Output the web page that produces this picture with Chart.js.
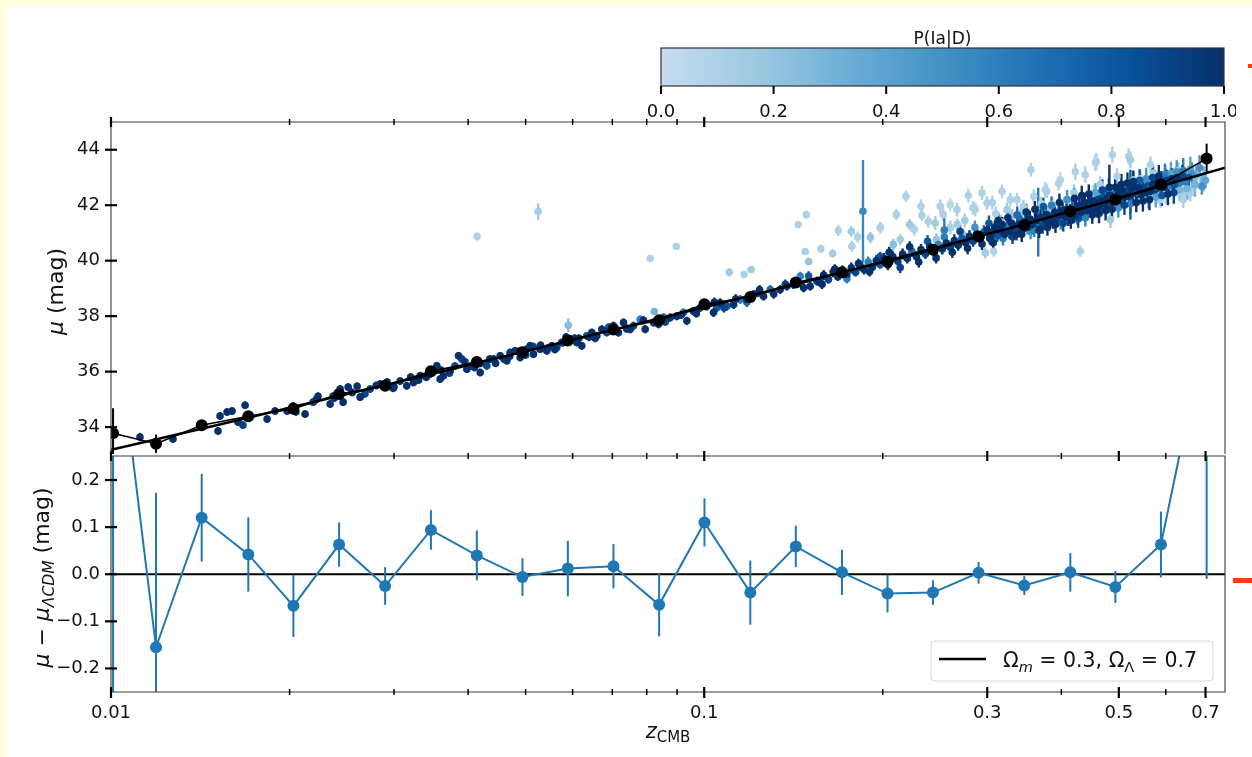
<!DOCTYPE html>
<html>
<head>
<meta charset="utf-8">
<script src="https://cdn.jsdelivr.net/npm/chart.js@4"></script>
<style>
  html, body { margin: 0; padding: 0; }
  body { width: 1252px; height: 757px; background: #ffffdc; position: relative; overflow: hidden; }
  #sheet { position: absolute; left: 7px; top: 6px; right: 0; bottom: 0; background: #fff; }
  canvas { position: absolute; }
  .mark { position: absolute; background: #ff3a12; }
</style>
</head>
<body>
<div id="sheet"></div>
<canvas id="cbar" style="left:600px;top:20px" width="636" height="110"></canvas>
<canvas id="muChart" style="left:0;top:100px" width="1252" height="360"></canvas>
<canvas id="resChart" style="left:0;top:450px" width="1252" height="307"></canvas>
<div class="mark" style="left:1248px;top:64px;width:4px;height:4px"></div>
<div class="mark" style="left:1233px;top:578px;width:19px;height:5px"></div>
<script>
// supernova distance moduli, errors and P(Ia|D)
var snZ = [
  0.01119,0.01272,0.01429,0.01515,0.01527,0.01569,0.01600,0.01637,0.01669,0.01683,
  0.01833,0.01890,0.01981,0.02028,0.02124,0.02191,0.02234,0.02341,0.02368,0.02434,
  0.02462,0.02511,0.02600,0.02630,0.02734,0.02842,0.02920,0.02990,0.03072,

  0.03152,0.03235,0.03320,0.03451,0.03542,0.03588,0.03635,0.03731,0.03853,0.03904,
  0.03980,0.04058,0.04137,0.04192,0.04301,0.04414,0.04529,0.04648,0.04708,0.04801,
  0.04895,0.05023,0.05088,0.05154,0.05289,0.05428,0.05534,0.05642,0.05791,0.05943,
  0.06099,0.06218,0.06340,0.06465,0.06592,0.06721,0.06852,0.07032,0.07170,0.07311,
  0.07503,0.07601,0.07800,0.07953,0.08215,0.08376,0.08540,0.08764,0.08994,0.09230,
  0.09350,0.09594,0.09845,0.1010,0.1037,0.1064,0.1092,0.1121,0.1150,0.1180,
  0.1211,0.1234,0.1259,0.1292,0.1343,0.1378,0.1414,0.1452,0.1471,0.1509,
  0.1549,

  0.0330,0.0345,0.0372,0.0395,0.0420,0.0445,0.0470,0.0500,0.0530,0.0560,
  0.0585,0.0615,0.0655,0.0690,0.0740,0.0790,0.0860,0.0915,0.0970,0.1050,

  0.156,0.159,0.162,0.165,0.168,0.171,0.174,0.177,0.180,0.183,
  0.186,0.189,0.192,0.195,0.198,0.201,0.204,0.208,0.212,0.216,
  0.220,0.224,0.228,0.232,0.236,0.240,0.244,0.248,0.252,0.256,
  0.260,0.264,0.268,0.272,0.276,0.280,0.284,0.288,0.292,0.296,

  0.300,0.303,0.306,0.309,0.312,0.315,0.318,0.321,0.324,0.327,
  0.330,0.333,0.336,0.339,0.342,0.345,0.348,0.351,0.354,0.357,
  0.360,0.363,0.369,0.372,0.375,0.378,0.381,0.384,0.387,0.390,
  0.393,0.396,0.399,0.402,0.405,0.408,0.411,0.414,0.417,0.420,
  0.423,0.426,0.429,0.432,0.435,0.438,0.441,0.444,0.447,0.450,
  0.453,0.456,0.459,0.462,0.465,0.468,0.471,0.474,0.477,0.480,
  0.484,0.488,0.492,0.496,0.500,0.504,0.508,0.512,0.516,0.520,
  0.524,0.528,0.532,0.536,0.540,0.545,0.550,0.555,0.560,0.565,
  0.570,0.575,0.580,0.585,0.590,0.596,0.602,0.608,0.614,0.620,
  0.626,0.632,0.640,0.648,0.656,0.664,

  0.0414,0.0525,0.0590,0.0811,0.0824,0.0897,0.1102,0.1168,0.1200,0.1440,
  0.1486,0.1480,0.1500,

  0.1573,0.1646,0.1774,0.1814,0.1981,0.2108,0.2188,0.2220,0.2320,0.2329,
  0.2452,0.2500,0.2668,0.2839,0.2940,0.2978,0.2997,0.3076,0.3177,0.3239,
  0.3368,0.3555,0.3593,0.3833,0.3958,0.4089,0.4306,0.4390,0.4537,0.4583,
  0.4840,0.4965,0.5195,0.5297,0.5725,0.5873,0.6420,0.6600,

  0.1852,0.254,0.3657,0.482,0.523,

  0.260,0.275,0.310,0.330,0.345,0.370,0.378,0.420,0.465,0.545,0.600,0.630,

  0.670,0.690,0.685,0.655,0.635,0.600,0.620,0.580,0.560,0.645,0.675,0.700,

  0.205,0.214,0.222,0.230,0.238,0.246,0.254,0.262,0.270,0.278,
  0.286,0.294,0.302,0.307,0.313,0.319,0.325,0.331,0.337,0.343,
  0.349,0.355,0.361,0.367,0.373,0.379,0.385,0.391,0.397,0.403,
  0.409,0.415,0.421,0.427,0.433,0.439,0.445,0.451,0.457,0.463,
  0.469,0.475,0.481,0.487,0.493,0.499,0.505,0.511,0.517,0.523,
  0.529,0.535,0.542,0.549,0.556,0.563,0.570,0.577,0.584,0.591,
  0.598,0.605,0.612,0.619,0.626,0.633,0.642,0.651,0.660,0.672,
  0.684,0.695,

  0.0205,0.0222,0.0238,0.0255,0.0268,0.0280,0.0300,0.0320,0.0340,0.0360,
  0.0380,0.0410,0.0435,0.0460,0.0490,0.0515,0.0545,0.0575,0.0605,0.0640,

  0.104,0.108,0.113,0.118,0.124,0.131,0.137,0.150,0.158,0.166,
  0.174,0.182,0.190,0.198,

  0.1683,0.1770,0.1906,0.1981,0.2083,0.2140,0.2260,0.2386,0.2462,0.2529,
  0.2599,0.2671,0.2734,0.2788,0.2864,0.3060,0.3157,0.3281,0.3438,0.3758,
  0.3862,0.3984,0.4223,0.4564,0.4875,0.5230,0.5651
];
var snMu = [
  33.64,33.57,34.11,33.86,34.40,34.54,34.58,34.18,34.07,34.79,
  34.29,34.58,34.58,34.76,34.47,34.90,35.11,34.83,35.11,35.37,
  34.90,35.44,35.47,35.08,35.37,35.55,35.62,35.40,35.66,

  35.49,35.61,35.85,35.91,36.21,35.73,35.85,36.03,36.57,36.45,
  36.09,36.21,36.33,35.97,36.21,36.45,36.57,36.39,36.69,36.75,
  36.51,36.81,36.93,36.63,36.81,36.75,36.93,36.87,37.05,37.17,
  37.05,36.93,37.29,37.41,37.29,37.53,37.41,37.65,37.41,37.77,
  37.53,37.65,37.88,37.53,37.77,37.71,37.95,37.95,38.00,38.13,
  37.83,38.18,38.30,38.36,38.13,38.48,38.36,38.42,38.60,38.60,
  38.78,38.84,38.72,38.96,38.96,39.08,39.14,39.44,39.02,39.08,
  39.26,

  35.70,36.05,35.95,36.35,36.30,36.30,36.55,36.60,36.95,36.80,
  37.25,37.20,37.20,37.60,37.55,37.85,37.80,38.05,38.10,38.30,

  39.25,39.48,39.32,39.60,39.42,39.66,39.50,39.74,39.58,39.83,
  39.68,39.95,39.76,40.00,39.86,40.08,39.84,40.14,39.98,40.24,
  40.08,40.33,40.14,40.40,40.24,40.50,40.32,40.58,40.42,40.64,
  40.48,40.73,40.56,40.80,40.64,40.88,40.70,40.96,40.78,41.03,

  41.10,40.80,41.00,41.20,40.90,41.10,41.30,40.95,41.20,41.05,
  41.35,41.15,40.95,41.30,41.45,41.15,41.35,41.20,41.50,41.30,
  41.10,41.45,41.55,41.25,41.50,41.65,41.35,41.60,41.45,41.75,
  41.50,41.65,41.40,41.80,41.60,41.85,41.55,41.75,41.90,41.65,
  41.85,41.60,42.00,41.75,41.90,42.10,41.80,42.00,41.85,42.15,
  41.95,42.10,41.85,42.20,42.00,42.15,42.30,42.05,42.25,42.10,
  42.35,42.15,42.40,42.20,42.45,42.25,42.50,42.30,42.55,42.35,
  42.60,42.40,42.65,42.45,42.60,42.40,42.65,42.45,42.70,42.50,
  42.75,42.55,42.80,42.60,42.85,42.65,42.90,42.70,42.95,42.75,
  43.00,42.80,43.05,42.85,43.00,43.15,

  40.87,41.77,37.67,40.08,38.17,40.51,39.58,39.50,39.68,41.30,
  41.66,40.33,39.97,

  40.43,40.26,40.52,40.85,41.18,41.66,42.32,41.30,41.96,41.63,
  41.36,41.96,41.84,41.90,42.44,40.28,42.08,40.34,42.50,41.84,
  42.20,43.28,42.32,41.84,42.78,42.20,40.34,43.10,42.44,43.58,
  41.48,43.04,43.76,42.92,43.16,42.20,42.20,42.44,

  41.78,41.10,41.39,42.65,42.38,

  41.20,41.45,41.70,41.60,41.95,42.05,42.50,42.45,42.75,42.95,43.10,43.25,

  42.70,42.68,43.00,42.55,42.45,42.40,43.05,42.35,42.25,42.60,43.10,42.90,

  40.30,39.75,40.50,39.95,40.70,40.10,40.85,40.30,41.05,40.45,
  41.20,40.60,41.35,40.65,41.45,40.80,41.55,40.85,41.65,40.95,
  41.75,41.05,41.85,41.10,41.95,41.20,42.00,41.30,42.10,41.35,
  42.20,41.45,42.25,41.50,42.35,41.55,42.40,41.65,42.45,41.70,
  42.55,41.80,42.60,41.85,42.65,41.90,42.75,42.00,42.80,42.05,
  42.85,42.10,42.90,42.15,42.95,42.20,43.00,42.30,43.05,42.35,
  43.10,42.40,43.15,42.45,43.20,42.55,43.25,42.60,43.30,42.75,
  43.35,42.95,

  34.55,35.00,35.05,35.25,35.20,35.50,35.45,35.80,35.80,36.05,
  36.20,36.15,36.45,36.45,36.75,36.90,36.85,37.05,37.20,37.25,

  38.50,38.30,38.62,38.50,38.95,38.80,39.15,39.45,39.15,39.70,
  39.35,39.90,39.60,40.15,

  41.09,41.05,40.84,41.20,40.58,40.76,41.12,41.41,40.76,41.66,
  42.02,41.30,40.94,42.35,41.85,42.10,41.41,42.20,41.77,42.56,
  42.02,42.92,43.21,43.53,43.82,43.64,43.46
];
var snErr = [
  .15,.14,.14,.14,.14,.14,.14,.14,.14,.14,
  .14,.14,.14,.14,.14,.14,.14,.14,.14,.14,
  .14,.14,.14,.14,.14,.14,.14,.14,.14,

  .14,.14,.14,.14,.14,.14,.14,.14,.14,.14,
  .14,.14,.14,.14,.14,.14,.14,.14,.14,.14,
  .14,.14,.14,.14,.14,.14,.14,.14,.14,.14,
  .14,.14,.14,.14,.14,.14,.14,.15,.15,.15,
  .15,.15,.15,.15,.15,.15,.15,.15,.15,.15,
  .15,.15,.15,.16,.16,.16,.16,.16,.16,.16,
  .16,.16,.16,.16,.16,.16,.16,.16,.16,.16,
  .16,

  .14,.14,.14,.14,.14,.14,.14,.14,.14,.14,
  .14,.14,.14,.15,.15,.15,.15,.15,.15,.16,

  .15,.18,.15,.2,.15,.18,.15,.2,.15,.2,
  .18,.2,.15,.2,.15,.2,.18,.2,.15,.2,
  .18,.2,.2,.2,.18,.2,.2,.22,.2,.22,
  .2,.22,.2,.22,.2,.22,.2,.22,.2,.25,

  .25,.22,.25,.25,.22,.25,.28,.22,.25,.25,
  .28,.25,.22,.28,.3,.25,.28,.25,.3,.28,
  .25,.3,.3,.28,.3,.3,.28,.3,.3,.3,
  .28,.3,.28,.3,.3,.32,.3,.3,.32,.3,
  .32,.3,.32,.3,.32,.35,.3,.32,.3,.35,
  .32,.32,.3,.35,.32,.32,.35,.32,.35,.32,
  .35,.32,.35,.32,.35,.32,.35,.32,.35,.32,
  .35,.32,.35,.32,.35,.32,.35,.32,.35,.32,
  .35,.32,.35,.32,.38,.35,.38,.35,.38,.35,
  .38,.35,.4,.38,.4,.4,

  .15,.3,.25,.12,.12,.12,.15,.12,.12,.12,
  .15,.12,.12,

  .15,.15,.2,.2,.2,.2,.2,.2,.25,.2,
  .25,.25,.25,.25,.25,.2,.25,.2,.25,.25,
  .25,.25,.25,.3,.25,.3,.2,.3,.3,.3,
  .3,.3,.3,.3,.3,.3,.3,.3,

  1.85,.45,1.24,.81,.9,

  .25,.25,.25,.25,.25,.25,.25,.3,.3,.3,.3,.3,

  .35,.3,.3,.35,.3,.35,.3,.3,.35,.35,.3,.3,

  .2,.2,.2,.2,.22,.2,.22,.2,.25,.22,
  .25,.22,.28,.25,.28,.25,.3,.25,.3,.28,
  .3,.28,.3,.28,.32,.3,.32,.3,.32,.3,
  .35,.3,.35,.32,.35,.32,.35,.32,.35,.35,
  .38,.35,.38,.35,.38,.35,.38,.35,.38,.35,
  .4,.35,.4,.38,.4,.38,.4,.38,.4,.38,
  .4,.4,.42,.4,.42,.4,.45,.42,.45,.45,
  .45,.45,

  .14,.14,.14,.14,.14,.14,.14,.14,.14,.14,
  .14,.14,.14,.14,.14,.14,.14,.14,.14,.15,

  .17,.17,.17,.17,.17,.17,.17,.17,.17,.17,
  .17,.17,.17,.17,

  .2,.2,.2,.2,.2,.2,.22,.22,.22,.22,
  .22,.22,.22,.25,.25,.25,.25,.25,.25,.28,
  .28,.28,.3,.3,.3,.3,.3
];
var snP = [
  1,1,1,1,1,1,1,1,.9,1,
  1,1,1,1,1,.9,1,1,1,1,
  1,1,1,1,.9,1,1,1,1,

  1,1,1,.9,1,1,1,1,1,.9,
  1,1,1,1,.9,1,1,1,1,1,
  1,.9,1,1,1,1,1,.9,1,1,
  1,1,.8,1,1,1,.9,1,1,1,
  1,.9,.6,1,1,1,.8,1,1,.7,
  1,1,.9,1,1,1,.8,1,.6,1,
  1,.9,1,.7,1,1,.9,.6,1,1,
  .9,

  1,1,.9,1,1,1,1,.9,1,1,
  1,1,1,.8,1,1,.9,1,1,.8,

  1,1,.9,1,1,.7,1,1,.9,1,
  1,.6,1,1,.8,1,1,1,.9,1,
  1,.7,1,1,.9,1,1,.6,1,1,
  .9,1,1,.8,1,1,.9,1,1,.7,

  1,1,.9,1,.8,1,1,1,.6,1,
  1,.9,1,1,.7,1,1,.9,1,1,
  .6,1,1,.9,1,1,1,.8,1,1,
  .9,1,.6,1,1,.9,1,1,.7,1,
  1,.9,1,1,.8,1,1,.9,1,1,
  .6,1,1,.9,1,1,.8,1,1,.9,
  1,1,.7,1,1,.9,1,1,.8,1,
  1,.9,1,.6,1,1,.9,1,.8,1,
  1,.9,1,.7,1,1,.9,.6,1,.8,
  1,.6,.9,.6,.8,.5,

  .1,.15,.25,.1,.3,.1,.15,.1,.15,.1,
  .1,.1,.2,

  .1,.15,.1,.1,.1,.1,.1,.15,.1,.1,
  .15,.1,.1,.1,.1,.15,.1,.1,.1,.15,
  .1,.1,.1,.2,.1,.15,.1,.1,.2,.1,
  .15,.1,.1,.15,.15,.1,.1,.1,

  .55,.6,.65,1,.8,

  .1,.15,.1,.2,.1,.1,.1,.15,.1,.1,.2,.15,

  .2,.5,.1,.15,.1,.1,.15,.1,.2,.05,.3,.4,

  1,.9,1,1,.8,1,.6,1,.9,1,
  .5,1,.8,1,1,.6,1,.9,.7,1,
  1,.5,1,1,.8,1,.6,1,1,.9,
  .5,1,1,.8,1,.6,1,1,.4,1,
  .9,1,.7,1,1,.5,1,.9,1,.6,
  1,1,.8,1,.5,1,.9,.4,1,.8,
  .6,1,.4,.9,.5,.3,.6,.3,.4,.3,
  .5,.3,

  1,1,1,1,.9,1,1,1,1,1,
  .9,1,1,1,1,.9,1,1,1,1,

  1,.9,1,.7,1,1,.9,.8,1,1,
  .6,1,1,.8,

  .1,.15,.2,.1,.25,.15,.1,.1,.2,.1,
  .05,.15,.2,.1,.1,.1,.2,.1,.15,.1,
  .1,.05,.1,.1,.1,.15,.1
];

// binned points and residuals from the model
var binZ = [0.01008,0.01191,0.01422,0.01704,0.0203,0.02424,0.02898,0.03462,0.04137,0.04939,
            0.0589,0.07031,0.08395,0.1001,0.1196,0.1427,0.1707,0.2037,0.243,0.2901,
            0.3464,0.4142,0.4933,0.5888,0.703];
var binMu = [33.78,33.40,34.07,34.39,34.66,35.19,35.49,36.01,36.35,36.70,
             37.12,37.52,37.85,38.43,38.69,39.21,39.58,39.96,40.39,40.87,
             41.29,41.78,42.20,42.75,43.68];
var binErr = [0.9,0.33,0.09,0.08,0.07,0.05,0.04,0.04,0.05,0.04,
              0.06,0.05,0.07,0.05,0.07,0.04,0.05,0.04,0.03,0.02,
              0.02,0.04,0.03,0.07,0.54];
var resid = [0.59,-0.155,0.120,0.042,-0.067,0.063,-0.025,0.094,0.040,-0.006,
             0.012,0.017,-0.065,0.110,-0.039,0.059,0.004,-0.041,-0.039,0.003,
             -0.024,0.004,-0.027,0.063,0.53];
var residErr = [0.9,0.328,0.093,0.079,0.066,0.047,0.04,0.042,0.053,0.04,
                0.059,0.047,0.067,0.051,0.068,0.044,0.048,0.04,0.026,0.023,
                0.02,0.041,0.034,0.07,0.54];

// flat LCDM curve, Om = 0.3, OL = 0.7
var modelZ  = [0.01,0.015,0.02,0.03,0.05,0.07,0.1,0.15,0.2,0.25,0.3,0.35,0.4,0.45,0.5,0.6,0.7,0.755];
var modelMu = [33.18,34.06,34.70,35.59,36.73,37.50,38.32,39.27,39.96,40.50,40.96,41.34,41.69,41.98,42.26,42.74,43.15,43.35];

// axes
var xMin = 0.01, xMax = 0.755;
var xMajor = [0.01, 0.1, 0.3, 0.5, 0.7];
var xLabels = ['0.01', '0.1', '0.3', '0.5', '0.7'];
var xMinor = [0.02,0.03,0.04,0.05,0.06,0.07,0.08,0.09,0.2,0.4,0.6];
var muTicks = [34, 36, 38, 40, 42, 44];
var resTicks = [-0.2, -0.1, 0, 0.1, 0.2];
var resLabels = ['\u22120.2', '\u22120.1', '0.0', '0.1', '0.2'];
var cbTicks = [0, 0.2, 0.4, 0.6, 0.8, 1.0];
var cbLabels = ['0.0', '0.2', '0.4', '0.6', '0.8', '1.0'];

var FONT = '"DejaVu Sans", sans-serif';
Chart.defaults.font.family = FONT;
Chart.defaults.color = '#111';
Chart.defaults.animation = false;

// Blues, lower quarter cut off
var bluesStops = [[198,219,239],[158,202,225],[107,174,214],[66,146,198],[33,113,181],[8,81,156],[8,48,107]];
function blueOf(p) {
  var t = Math.max(0, Math.min(1, p)) * (bluesStops.length - 1);
  var i = Math.min(bluesStops.length - 2, Math.floor(t)), f = t - i;
  var a = bluesStops[i], b = bluesStops[i + 1];
  return 'rgb(' + [0, 1, 2].map(function (k) { return Math.round(a[k] + (b[k] - a[k]) * f); }).join(',') + ')';
}

// text made of pieces: [text, size, italic, dy]
function runsWidth(ctx, runs) {
  var w = 0;
  runs.forEach(function (r) {
    ctx.font = (r[2] ? 'italic ' : '') + r[1] + 'px ' + FONT;
    w += ctx.measureText(r[0]).width;
  });
  return w;
}
function drawRuns(ctx, runs, x, y, align) {
  var cx = align === 'left' ? x : x - runsWidth(ctx, runs) / 2;
  ctx.textAlign = 'left';
  ctx.textBaseline = 'alphabetic';
  runs.forEach(function (r) {
    ctx.font = (r[2] ? 'italic ' : '') + r[1] + 'px ' + FONT;
    ctx.fillText(r[0], cx, y + (r[3] || 0));
    cx += ctx.measureText(r[0]).width;
  });
}

// keep tick labels from pushing the plot area in
function noEdgePadding(s) {
  s.paddingTop = 0; s.paddingBottom = 0; s.paddingLeft = 0; s.paddingRight = 0;
}

var errorBars = {
  id: 'errorBars',
  beforeDatasetDraw: function (chart, args) {
    var ds = chart.data.datasets[args.index];
    if (!ds.errors) return;
    var xs = chart.scales.x, ys = chart.scales.y, a = chart.chartArea, ctx = chart.ctx;
    ctx.save();
    ctx.beginPath();
    ctx.rect(a.left, a.top, a.right - a.left, a.bottom - a.top);
    ctx.clip();
    ctx.lineWidth = ds.errorWidth || 2;
    ds.data.forEach(function (pt, i) {
      var px = xs.getPixelForValue(pt.x);
      ctx.strokeStyle = Array.isArray(ds.errorColor) ? ds.errorColor[i] : ds.errorColor;
      ctx.beginPath();
      ctx.moveTo(px, ys.getPixelForValue(pt.y - ds.errors[i]));
      ctx.lineTo(px, ys.getPixelForValue(pt.y + ds.errors[i]));
      ctx.stroke();
    });
    ctx.restore();
  }
};

// spines and in-out ticks; the shared edge between panels is drawn once, by the lower one
function framePlugin(yTicks, openBottom) {
  return {
    id: 'frame',
    afterDatasetsDraw: function (chart) {
      var ctx = chart.ctx, a = chart.chartArea, xs = chart.scales.x, ys = chart.scales.y;
      ctx.save();
      ctx.strokeStyle = '#3a3a3a';
      ctx.lineWidth = 1.1;
      ctx.beginPath();
      if (openBottom) {
        ctx.moveTo(a.left, a.bottom); ctx.lineTo(a.left, a.top);
        ctx.lineTo(a.right, a.top); ctx.lineTo(a.right, a.bottom);
      } else {
        ctx.rect(a.left, a.top, a.right - a.left, a.bottom - a.top);
      }
      ctx.stroke();
      ctx.strokeStyle = '#000';
      function tick(x1, y1, x2, y2, w) {
        ctx.lineWidth = w;
        ctx.beginPath(); ctx.moveTo(x1, y1); ctx.lineTo(x2, y2); ctx.stroke();
      }
      xMajor.forEach(function (v) {
        var px = xs.getPixelForValue(v);
        tick(px, a.top - 5, px, a.top + 5, 2.2);
        if (!openBottom) tick(px, a.bottom - 5, px, a.bottom + 6, 2.2);
      });
      xMinor.forEach(function (v) {
        var px = xs.getPixelForValue(v);
        tick(px, a.top - 3, px, a.top + 3, 1.5);
        if (!openBottom) tick(px, a.bottom - 3, px, a.bottom + 3, 1.5);
      });
      yTicks.forEach(function (v) {
        var py = ys.getPixelForValue(v);
        tick(a.left - 6, py, a.left + 6, py, 2.2);
      });
      ctx.restore();
    }
  };
}

// colorbar
var colorbar = {
  id: 'colorbar',
  afterDraw: function (chart) {
    var ctx = chart.ctx, a = chart.chartArea, xs = chart.scales.x;
    var x0 = xs.getPixelForValue(0), x1 = xs.getPixelForValue(1);
    var g = ctx.createLinearGradient(x0, 0, x1, 0);
    bluesStops.forEach(function (c, k) { g.addColorStop(k / (bluesStops.length - 1), 'rgb(' + c.join(',') + ')'); });
    ctx.save();
    ctx.fillStyle = g;
    ctx.fillRect(x0, a.top, x1 - x0, a.bottom - a.top);
    ctx.strokeStyle = '#333';
    ctx.lineWidth = 1.2;
    ctx.strokeRect(x0, a.top, x1 - x0, a.bottom - a.top);
    ctx.strokeStyle = '#000';
    ctx.lineWidth = 2;
    ctx.fillStyle = '#111';
    ctx.font = '18px ' + FONT;
    ctx.textAlign = 'center';
    ctx.textBaseline = 'alphabetic';
    cbTicks.forEach(function (v, i) {
      var px = xs.getPixelForValue(v);
      ctx.beginPath(); ctx.moveTo(px, a.bottom); ctx.lineTo(px, a.bottom + 8); ctx.stroke();
      ctx.fillText(cbLabels[i], px, a.bottom + 31);
    });
    ctx.font = '17px ' + FONT;
    ctx.fillText('P(Ia|D)', (x0 + x1) / 2, a.top - 4.5);
    ctx.restore();
  }
};

new Chart(document.getElementById('cbar'), {
  type: 'scatter',
  data: { datasets: [] },
  options: {
    responsive: false, devicePixelRatio: 1, events: [],
    layout: { padding: { left: 61, right: 12, top: 28, bottom: 44 } },
    plugins: { legend: { display: false }, tooltip: { enabled: false } },
    scales: {
      x: { type: 'linear', min: 0, max: 1, display: false },
      y: { type: 'linear', min: 0, max: 1, display: false }
    }
  },
  plugins: [colorbar]
});

// top panel: Hubble diagram
var order = snZ.map(function (z, i) { return i; }).sort(function (a, b) { return snP[a] - snP[b]; });
var snPoints = order.map(function (i) { return { x: snZ[i], y: snMu[i] }; });
var snColors = order.map(function (i) { return blueOf(snP[i]); });
var snBars = order.map(function (i) { return snErr[i]; });

var muTitle = {
  id: 'muTitle',
  afterDraw: function (chart) {
    var ctx = chart.ctx, a = chart.chartArea;
    ctx.save();
    ctx.fillStyle = '#111';
    ctx.translate(63, (a.top + a.bottom) / 2 + 3.5);
    ctx.rotate(-Math.PI / 2);
    drawRuns(ctx, [['\u03bc', 22, true], [' (mag)', 22, false]], 0, 0);
    ctx.restore();
  }
};

new Chart(document.getElementById('muChart'), {
  type: 'scatter',
  data: {
    datasets: [
      {
        label: 'SNe',
        data: snPoints,
        order: 3,
        showLine: false,
        pointRadius: 3.8,
        pointBorderWidth: 0,
        pointBackgroundColor: snColors,
        errors: snBars,
        errorColor: snColors,
        errorWidth: 2.4
      },
      {
        label: 'model',
        data: modelZ.map(function (z, i) { return { x: z, y: modelMu[i] }; }),
        order: 2,
        showLine: true,
        borderColor: '#000',
        borderWidth: 2.5,
        pointRadius: 0,
        cubicInterpolationMode: 'monotone'
      },
      {
        label: 'binned',
        data: binZ.map(function (z, i) { return { x: z, y: binMu[i] }; }),
        order: 1,
        showLine: true,
        borderColor: '#000',
        borderWidth: 1.6,
        pointRadius: 6,
        pointBorderWidth: 0,
        pointBackgroundColor: '#000',
        errors: binErr,
        errorColor: '#000',
        errorWidth: 2
      }
    ]
  },
  options: {
    responsive: false, devicePixelRatio: 1, events: [],
    layout: { padding: { left: 0, right: 27, top: 22, bottom: 5 } },
    plugins: { legend: { display: false }, tooltip: { enabled: false } },
    scales: {
      x: { type: 'logarithmic', min: xMin, max: xMax, display: false },
      y: {
        type: 'linear', min: 33.03, max: 45.0,
        afterBuildTicks: function (s) { s.ticks = muTicks.map(function (v) { return { value: v }; }); },
        afterFit: function (s) { s.width = 111; noEdgePadding(s); },
        grid: { display: false, drawTicks: false },
        border: { display: false },
        ticks: { padding: 11, font: { size: 18 }, color: '#111', callback: function (v) { return String(v); } }
      }
    }
  },
  plugins: [errorBars, framePlugin(muTicks, true), muTitle]
});

// bottom panel: residuals
var resDecor = {
  id: 'resDecor',
  afterDraw: function (chart) {
    var ctx = chart.ctx, a = chart.chartArea;
    ctx.save();
    ctx.fillStyle = '#111';
    // x title
    drawRuns(ctx, [['z', 21, true], ['CMB', 15, false, 4]], (a.left + a.right) / 2, a.bottom + 46);
    // y title
    ctx.save();
    ctx.translate(49, (a.top + a.bottom) / 2 + 3.5);
    ctx.rotate(-Math.PI / 2);
    drawRuns(ctx, [['\u03bc', 22, true], [' \u2212 ', 22, false], ['\u03bc', 22, true],
                   ['\u039bCDM', 15.5, true, 4.5], [' (mag)', 22, false]], 0, 0);
    ctx.restore();
    // legend
    var right = a.right - 12, bottom = a.bottom - 11, w = 282, h = 40;
    var left = right - w, top = bottom - h;
    ctx.beginPath();
    ctx.roundRect(left, top, w, h, 4);
    ctx.fillStyle = 'rgba(255,255,255,0.85)';
    ctx.fill();
    ctx.strokeStyle = '#d4d4d4';
    ctx.lineWidth = 1;
    ctx.stroke();
    ctx.strokeStyle = '#000';
    ctx.lineWidth = 2.5;
    ctx.beginPath(); ctx.moveTo(left + 8, top + 18); ctx.lineTo(left + 55, top + 18); ctx.stroke();
    ctx.fillStyle = '#111';
    drawRuns(ctx, [['\u03a9', 20.5, false], ['m', 14.5, true, 4.5], [' = 0.3, ', 20.5, false],
                   ['\u03a9', 20.5, false], ['\u039b', 14.5, false, 4.5], [' = 0.7', 20.5, false]],
             left + 72, top + 26, 'left');
    ctx.restore();
  }
};

new Chart(document.getElementById('resChart'), {
  type: 'scatter',
  data: {
    datasets: [
      {
        label: 'zero',
        data: [{ x: xMin, y: 0 }, { x: xMax, y: 0 }],
        order: 2,
        showLine: true,
        borderColor: '#000',
        borderWidth: 2.2,
        pointRadius: 0
      },
      {
        label: 'residuals',
        data: binZ.map(function (z, i) { return { x: z, y: resid[i] }; }),
        order: 1,
        showLine: true,
        borderColor: '#1f77b4',
        borderWidth: 2,
        pointRadius: 6,
        pointBorderWidth: 0,
        pointBackgroundColor: '#1f77b4',
        errors: residErr,
        errorColor: '#1f77b4',
        errorWidth: 2
      }
    ]
  },
  options: {
    responsive: false, devicePixelRatio: 1, events: [],
    layout: { padding: { left: 0, right: 27, top: 5, bottom: 0 } },
    plugins: { legend: { display: false }, tooltip: { enabled: false } },
    scales: {
      x: {
        type: 'logarithmic', min: xMin, max: xMax,
        afterBuildTicks: function (s) { s.ticks = xMajor.map(function (v) { return { value: v }; }); },
        afterFit: function (s) { s.height = 65; noEdgePadding(s); },
        grid: { display: false, drawTicks: false },
        border: { display: false },
        ticks: { padding: 11, autoSkip: false, maxRotation: 0, font: { size: 18 }, color: '#111',
                 callback: function (v, i) { return xLabels[i]; } }
      },
      y: {
        type: 'linear', min: -0.25, max: 0.251,
        afterBuildTicks: function (s) { s.ticks = resTicks.map(function (v) { return { value: v }; }); },
        afterFit: function (s) { s.width = 111; noEdgePadding(s); },
        grid: { display: false, drawTicks: false },
        border: { display: false },
        ticks: { padding: 11, font: { size: 18 }, color: '#111', callback: function (v, i) { return resLabels[i]; } }
      }
    }
  },
  plugins: [errorBars, framePlugin(resTicks, false), resDecor]
});
</script>
</body>
</html>
